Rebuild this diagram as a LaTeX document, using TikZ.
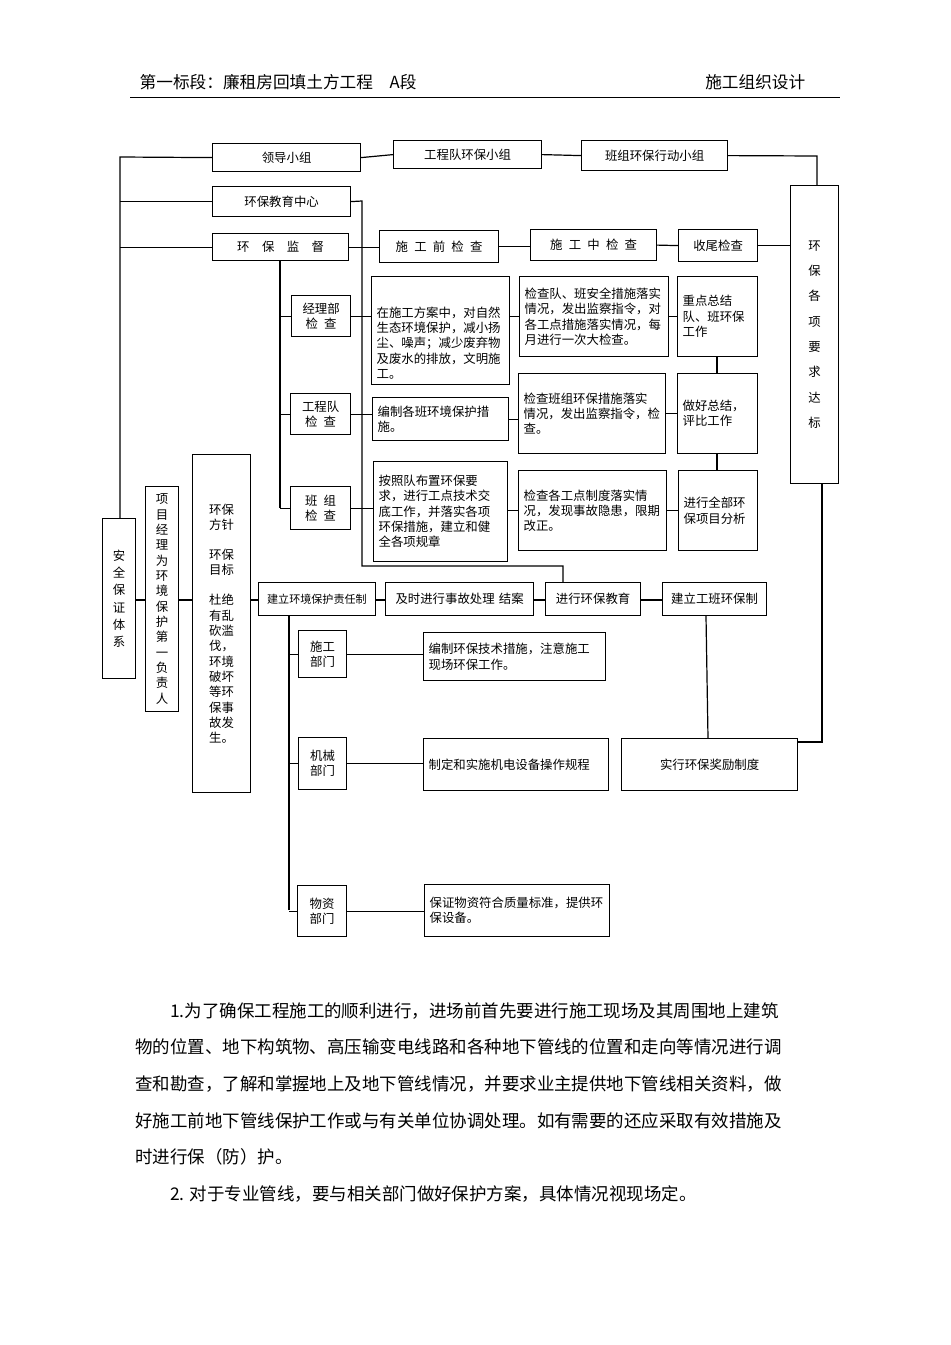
\documentclass[tikz,border=0pt]{standalone}
\usepackage{fontspec}
\setmainfont{Noto Sans CJK SC}
\XeTeXlinebreaklocale "zh"
\XeTeXlinebreakskip=0pt
\begin{document}
\begin{tikzpicture}[x=0.75pt,y=-0.75pt,
  b/.style={draw,line width=0.9pt,inner sep=2pt,font=\fontsize{9.3}{11.5}\selectfont,align=left},
  ln/.style={line width=0.9pt}]
\useasboundingbox (0,0) rectangle (950,1345);
\newcommand\bx[7][]{\node[b,anchor=north west,minimum width={(#4-#2)*0.75pt},minimum height={(#5-#3)*0.75pt},text width={(#4-#2-10)*0.75pt},#1] (#6) at (#2,#3) {#7};}
% header
\node[anchor=west,font=\fontsize{12.5}{14}\selectfont] (h1) at (135,82) {第一标段：廉租房回填土方工程\quad A段};
\node[anchor=east,font=\fontsize{12.5}{14}\selectfont] (h2) at (810,82) {施工组织设计};
\draw[line width=0.6pt] (130,97) -- (840,97);
% top
\bx[align=center]{212}{143}{360}{171}{ld}{领导小组}
\bx[align=center]{393}{140}{541}{168}{gc}{工程队环保小组}
\bx[align=center]{581}{140}{727}{170}{bz}{班组环保行动小组}
\bx[align=center,font=\fontsize{9.3}{19}\selectfont]{790}{185}{838}{483}{db}{环\\保\\各\\项\\要\\求\\达\\标}
\bx[align=center]{212}{186}{350}{216}{jy}{环保教育中心}
\bx[align=center]{212}{233}{348}{260}{jd}{环\quad 保\quad 监\quad 督}
\bx[align=center]{379}{230}{498}{262}{sq}{施\enspace 工\enspace 前\enspace 检\enspace 查}
\bx[align=center]{530}{229}{656}{260}{sz}{施\enspace 工\enspace 中\enspace 检\enspace 查}
\bx[align=center]{678}{229}{757}{261}{sw}{收尾检查}
% checks
\bx[align=center]{291}{295}{350}{336}{jl}{经理部\\检\enspace 查}
\bx[align=center]{290}{393}{350}{434}{gd}{工程队\\检\enspace 查}
\bx[align=center]{290}{486}{350}{529}{bj}{班\enspace 组\\检\enspace 查}
\bx[text depth=28pt]{371}{276}{509}{384}{ta}{在施工方案中，对自然生态环境保护，减小扬尘、噪声；减少废弃物及废水的排放，文明施工。}
\bx{519}{276}{668}{356}{tb}{检查队、班安全措施落实情况，发出监察指令，对各工点措施落实情况，每月进行一次大检查。}
\bx{677}{276}{757}{356}{tc}{重点总结队、班环保工作}
\bx{372}{397}{508}{440}{td}{编制各班环境保护措施。}
\bx{518}{373}{665}{453}{te}{检查班组环保措施落实情况，发出监察指令，检查。}
\bx{677}{373}{757}{453}{tf}{做好总结，评比工作}
\bx{373}{461}{507}{561}{tg}{按照队布置环保要求，进行工点技术交底工作，并落实各项环保措施，建立和健全各项规章}
\bx{518}{470}{666}{550}{th}{检查各工点制度落实情况，发现事故隐患，限期改正。}
\bx{678}{470}{757}{550}{ti}{进行全部环保项目分析}
% left columns
\bx[align=center,font=\fontsize{9.3}{13}\selectfont]{102}{518}{135}{678}{aq}{安\\全\\保\\证\\体\\系}
\bx[align=center,font=\fontsize{9.3}{11.5}\selectfont]{145}{486}{178}{711}{xm}{项\\目\\经\\理\\为\\环\\境\\保\\护\\第\\一\\负\\责\\人}
\bx[align=center,font=\fontsize{9.3}{11.5}\selectfont]{192}{454}{250}{792}{fz}{环保\\方针\\[11pt]环保\\目标\\[11pt]杜绝\\有乱\\砍滥\\伐，\\环境\\破坏\\等环\\保事\\故发\\生。}
% bottom chain
\bx[align=center,font=\fontsize{8.3}{10}\selectfont,inner sep=1pt,text width=114*0.75pt]{258}{582}{374}{615}{zr}{建立环境保护责任制}
\bx[align=center]{385}{582}{533}{615}{js}{及时进行事故处理\ 结案}
\bx[align=center]{545}{582}{640}{615}{jj}{进行环保教育}
\bx[align=center]{662}{582}{766}{615}{gb}{建立工班环保制}
\bx[align=center]{298}{630}{346}{677}{sb}{施工\\部门}
\bx[align=center]{298}{737}{346}{789}{jx}{机械\\部门}
\bx[align=center]{297}{885}{346}{936}{wz}{物资\\部门}
\bx{423}{632}{605}{680}{tj}{编制环保技术措施，注意施工现场环保工作。}
\bx{423}{738}{608}{790}{tk}{制定和实施机电设备操作规程}
\bx{424}{884}{609}{936}{tl}{保证物资符合质量标准，提供环保设备。}
\bx[align=center]{621}{738}{797}{790}{jl2}{实行环保奖励制度}
% connectors
\coordinate (L1) at (120,157);
\draw[ln] (ld.west) -- (L1) -- (aq.north -| L1);
\draw[ln] (jy.west) -- (jy.west -| L1);
\draw[ln] (jd.west) -- (jd.west -| L1);
\draw[ln] (ld.east) -- (gc.west);
\draw[ln] (gc.east) -- (bz.west);
\coordinate (R1) at (817,156);
\draw[ln] (bz.east) -- (R1) -- (R1 |- db.north);
\draw[ln] (sw.east) -- (db.west |- sw.east);
\coordinate (R2) at (822,742);
\draw[ln] (db.south -| R2) -- (R2) -- (jl2.east |- R2);
\coordinate (E1) at (362,201);
\coordinate (E2) at (362,566);
\coordinate (E3) at (563,566);
\draw[ln] (jy.east) -- (E1) -- (E2) -- (E3) -- (E3 |- jj.north);
\draw[ln] (jd.east) -- (sq.west |- jd.east);
\draw[ln] (sq.east) -- (sz.west |- sq.east);
\draw[ln] (sz.east) -- (sw.west);
\coordinate (M1) at (280,260);
\draw[ln] (M1) -- (280,508);
\foreach \n in {jl,gd,bj}{\draw[ln] (\n.west) -- (\n.west -| M1);}
\draw[ln] (jl.east) -- (ta.west |- jl.east);
\draw[ln] (gd.east) -- (td.west |- gd.east);
\draw[ln] (bj.east) -- (tg.west |- bj.east);
\draw[ln] (ta.east |- tb.west) -- (tb.west);
\draw[ln] (tb.east) -- (tc.west |- tb.east);
\draw[ln] (td.east) -- (te.west |- td.east);
\draw[ln] (te.east) -- (tf.west |- te.east);
\draw[ln] (tg.east |- th.west) -- (th.west);
\draw[ln] (th.east) -- (ti.west |- th.east);
\draw[ln] (tc.south -| 717,0) -- (tf.north -| 717,0);
\draw[ln] (tf.south -| 717,0) -- (ti.north -| 717,0);
\coordinate (Y) at (0,600);
\draw[ln] (aq.east |- Y) -- (xm.west |- Y);
\draw[ln] (xm.east |- Y) -- (fz.west |- Y);
\draw[ln] (fz.east |- Y) -- (zr.west |- Y);
\draw[ln] (zr.east |- Y) -- (js.west |- Y);
\draw[ln] (js.east |- Y) -- (jj.west |- Y);
\draw[ln] (jj.east |- Y) -- (gb.west |- Y);
\draw[ln] (gb.south -| 706,0) -- (jl2.north -| 708,0);
\coordinate (V1) at (289,615);
\draw[ln] (V1) -- (289,910);
\draw[ln] (sb.west) -- (sb.west -| V1);
\draw[ln] (jx.west) -- (jx.west -| V1);
\draw[ln] (wz.west) -- (wz.west -| V1);
\draw[ln] (sb.east) -- (tj.west |- sb.east);
\draw[ln] (jx.east) -- (tk.west |- jx.east);
\draw[ln] (wz.east) -- (tl.west |- wz.east);
% paragraph
\node[anchor=north west,text width=655*0.75pt,align=justify,font=\fontsize{13.1}{27.5}\selectfont,inner sep=0pt] (p1) at (135,1002) {\hspace*{2em}1.为了确保工程施工的顺利进行，进场前首先要进行施工现场及其周围地上建筑物的位置、地下构筑物、高压输变电线路和各种地下管线的位置和走向等情况进行调查和勘查，了解和掌握地上及地下管线情况，并要求业主提供地下管线相关资料，做好施工前地下管线保护工作或与有关单位协调处理。如有需要的还应采取有效措施及时进行保（防）护。\par
\hspace*{2em}2. 对于专业管线，要与相关部门做好保护方案，具体情况视现场定。};
\end{tikzpicture}
\end{document}
